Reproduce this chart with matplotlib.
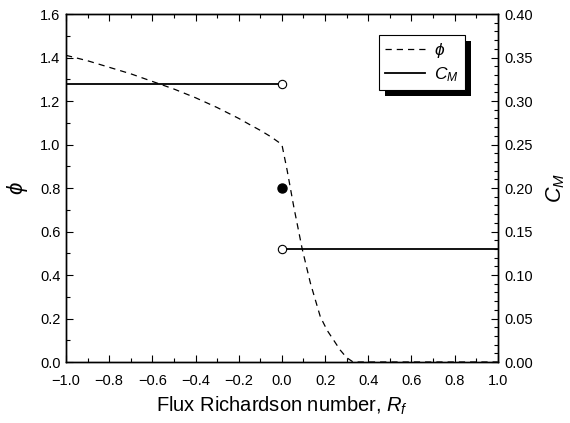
import matplotlib
matplotlib.use("Agg")
import matplotlib.pyplot as plt
from matplotlib.patches import Rectangle
from matplotlib.ticker import MultipleLocator

plt.rcParams['font.family'] = ['Liberation Sans', 'DejaVu Sans']
plt.rcParams['mathtext.fontset'] = 'custom'
plt.rcParams['mathtext.it'] = 'Liberation Sans:italic'
plt.rcParams['mathtext.rm'] = 'Liberation Sans'

# stability function phi vs flux Richardson number
rf_phi = [-1.0, -0.9, -0.8, -0.7, -0.6, -0.5, -0.4, -0.3, -0.2, -0.15, -0.1, -0.05, 0.0,
          0.024, 0.055, 0.094, 0.132, 0.178, 0.21, 0.24, 0.27, 0.30, 0.33, 0.5, 0.75, 1.0]
phi = [1.41, 1.385, 1.355, 1.325, 1.29, 1.255, 1.215, 1.17, 1.12, 1.092, 1.065, 1.035, 1.0,
       0.883, 0.714, 0.52, 0.363, 0.208, 0.145, 0.10, 0.055, 0.02, 0.0, 0.0, 0.0, 0.0]

# C_M: constant on each side of Rf = 0
rf_unstable = [-1.0, 0.0]
cm_unstable = [0.32, 0.32]
rf_stable = [0.0, 1.0]
cm_stable = [0.13, 0.13]
rf_neutral = [0.0]
cm_neutral = [0.20]

fig = plt.figure(figsize=(5.7, 4.23), dpi=100)
ax = fig.add_axes([0.1158, 0.1442, 0.7575, 0.8227])
ax2 = ax.twinx()

l1, = ax.plot(rf_phi, phi, color='black', linestyle=(0, (5, 4)), linewidth=0.9, label=r'$\phi$')
l2, = ax2.plot(rf_unstable, cm_unstable, color='black', linewidth=1.3, label=r'$C_M$')
ax2.plot(rf_stable, cm_stable, color='black', linewidth=1.3)
ax2.plot([rf_unstable[-1], rf_stable[0]], [cm_unstable[-1], cm_stable[0]], linestyle='none',
         marker='o', markersize=6, markerfacecolor='white', markeredgecolor='black',
         markeredgewidth=0.8, zorder=5)
ax2.plot(rf_neutral, cm_neutral, linestyle='none', marker='o', markersize=6.5,
         color='black', zorder=5)

ax.set_xlim(-1.0, 1.0)
ax.set_ylim(0.0, 1.6)
ax2.set_ylim(0.0, 0.4)

ax.xaxis.set_major_locator(MultipleLocator(0.2))
ax.xaxis.set_minor_locator(MultipleLocator(0.1))
ax.yaxis.set_major_locator(MultipleLocator(0.2))
ax.yaxis.set_minor_locator(MultipleLocator(0.1))
ax2.yaxis.set_major_locator(MultipleLocator(0.05))
ax2.yaxis.set_minor_locator(MultipleLocator(0.01))
ax.xaxis.set_major_formatter(plt.FuncFormatter(lambda v, p: f"{v:.1f}".replace('-', '\u2212')))
ax.yaxis.set_major_formatter(plt.FuncFormatter(lambda v, p: f"{v:.1f}"))
ax2.yaxis.set_major_formatter(plt.FuncFormatter(lambda v, p: f"{v:.2f}"))

ax.tick_params(which='both', direction='in', top=True, right=False, labelsize=10.5, width=0.8)
ax.tick_params(axis='x', which='both', pad=8.5)
ax.tick_params(axis='y', which='both', pad=4)
ax.tick_params(which='major', length=5)
ax.tick_params(which='minor', length=3)
ax2.tick_params(which='both', direction='in', labelsize=10.5, width=0.8, pad=5)
ax2.tick_params(which='major', length=5)
ax2.tick_params(which='minor', length=3)
for a in (ax, ax2):
    for s in a.spines.values():
        s.set_linewidth(1.0)

ax.set_xlabel(r'Flux Richardson number, $R_f$', fontsize=14.5, labelpad=5)
ax.set_ylabel(r'$\phi$', fontsize=16, labelpad=7)
ax2.set_ylabel(r'$C_M$', fontsize=15.5, labelpad=8)

leg = ax2.legend([l1, l2], [r'$\phi$', r'$C_M$'], loc='upper right',
                 bbox_to_anchor=(0.923, 0.94), fontsize=12.5, frameon=True, fancybox=False,
                 edgecolor='black', framealpha=1, handlelength=2.3, borderpad=0.35,
                 labelspacing=0.3, handletextpad=0.5, borderaxespad=0)
leg.get_frame().set_linewidth(0.8)
leg.set_zorder(10)

# solid black drop shadow behind the legend box
fig.canvas.draw()
bb = leg.get_window_extent()
off = 6
shadow = Rectangle((bb.x0 + off, bb.y0 - off), bb.width, bb.height, transform=None,
                   facecolor='black', edgecolor='none', zorder=9)
ax2.add_artist(shadow)

fig.savefig('out.png', dpi=100)
